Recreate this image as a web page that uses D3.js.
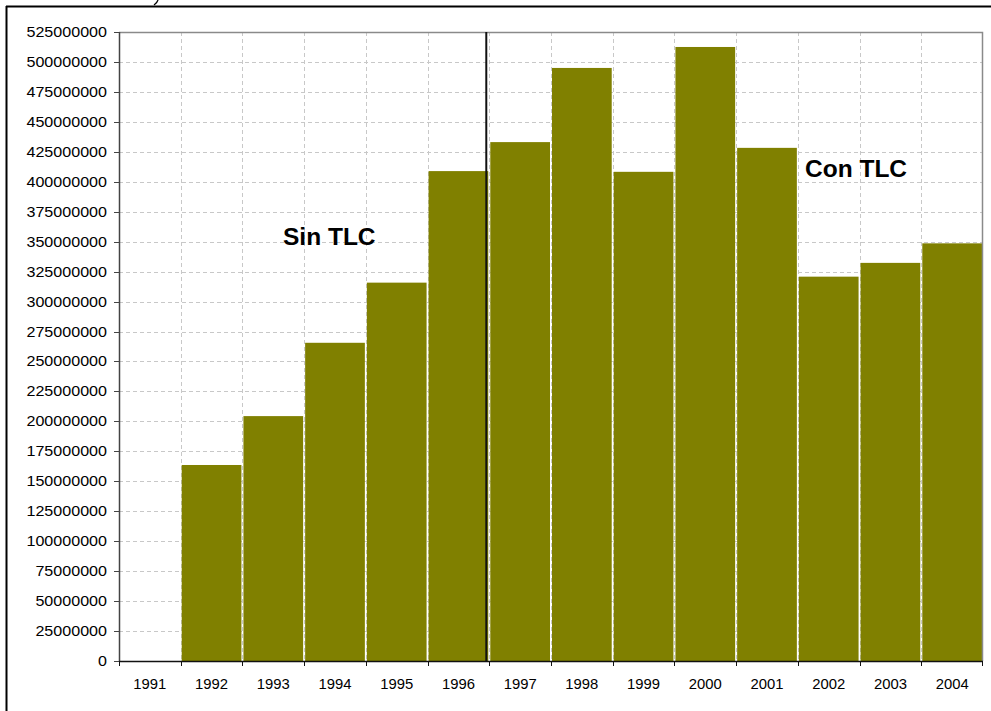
<!DOCTYPE html>
<html>
<head>
<meta charset="utf-8">
<script src="https://cdn.jsdelivr.net/npm/d3@7"></script>
<style>
  html, body { margin: 0; padding: 0; background: #fff; }
  svg { display: block; font-family: Arial, "Liberation Sans", sans-serif; }
</style>
</head>
<body>
<svg id="chart" width="991" height="711"></svg>
<script>
// years on the x axis
const years = ['1991', '1992', '1993', '1994', '1995', '1996', '1997',
  '1998', '1999', '2000', '2001', '2002', '2003', '2004'];
// values
const values = [0, 163600000, 204400000, 265600000, 315800000, 408900000, 433100000,
  495000000, 408300000, 512500000, 428300000, 320800000, 332300000, 348600000];
const yTicks = d3.range(0, 525000001, 25000000);
const notes = [
  { text: 'Sin TLC', x: 283, y: 245 },
  { text: 'Con TLC', x: 805, y: 177 }
];

const margin = { top: 32, right: 8, bottom: 50, left: 119 };
const width = 991, height = 711;

const svg = d3.select('#chart');

const x = d3.scaleBand()
  .domain(years)
  .range([margin.left, width - margin.right])
  .padding(0);

const y = d3.scaleLinear()
  .domain([0, 525000000])
  .range([height - margin.bottom, margin.top]);

const x0 = margin.left, x1 = width - margin.right;
const y0 = height - margin.bottom, y1 = margin.top;

// outer frame (top and left only)
svg.append('line').attr('x1', 6).attr('x2', width).attr('y1', 6.5).attr('y2', 6.5)
  .attr('stroke', '#000').attr('stroke-width', 2);
svg.append('line').attr('x1', 6.5).attr('x2', 6.5).attr('y1', 6).attr('y2', height)
  .attr('stroke', '#000').attr('stroke-width', 2);
// stray stroke of something above the frame
svg.append('path').attr('d', 'M158,0 Q157,3 154,5')
  .attr('fill', 'none').attr('stroke', '#000').attr('stroke-width', 1.3);

// horizontal grid
svg.append('g')
  .selectAll('line')
  .data(yTicks.slice(1, -1))
  .join('line')
  .attr('x1', x0).attr('x2', x1)
  .attr('y1', d => Math.round(y(d)) + 0.5).attr('y2', d => Math.round(y(d)) + 0.5)
  .attr('stroke', '#c8c8c8').attr('stroke-dasharray', '4,3');

// vertical grid at band boundaries
svg.append('g')
  .selectAll('line')
  .data(years.slice(1))
  .join('line')
  .attr('x1', d => Math.round(x(d)) + 0.5).attr('x2', d => Math.round(x(d)) + 0.5)
  .attr('y1', y1).attr('y2', y0)
  .attr('stroke', '#c8c8c8').attr('stroke-dasharray', '4,3');

// bars
svg.append('g')
  .attr('fill', '#808000')
  .selectAll('rect')
  .data(years.map((d, i) => [d, values[i]]).filter(d => d[1] > 0))
  .join('rect')
  .attr('x', d => x(d[0]) + 1)
  .attr('y', d => y(d[1]))
  .attr('width', x.bandwidth() - 2)
  .attr('height', d => y(0) - y(d[1]));

// plot border top and right
svg.append('path')
  .attr('d', `M${x0},${y1 + 0.5}H${x1 - 0.5}V${y0}`)
  .attr('fill', 'none').attr('stroke', '#8a8a8a').attr('stroke-width', 1.5);

// divider between 1996 and 1997
svg.append('line')
  .attr('x1', x('1997') - 3).attr('x2', x('1997') - 3)
  .attr('y1', y1).attr('y2', y0)
  .attr('stroke', '#111').attr('stroke-width', 2);

// y axis
const yAxis = svg.append('g');
yAxis.append('line').attr('x1', x0 + 0.5).attr('x2', x0 + 0.5).attr('y1', y1).attr('y2', y0)
  .attr('stroke', '#444').attr('stroke-width', 1.5);
yAxis.selectAll('line.tick')
  .data(yTicks)
  .join('line')
  .attr('class', 'tick')
  .attr('x1', x0 - 5).attr('x2', x0)
  .attr('y1', d => Math.round(y(d)) + 0.5).attr('y2', d => Math.round(y(d)) + 0.5)
  .attr('stroke', '#444');
yAxis.selectAll('text')
  .data(yTicks)
  .join('text')
  .attr('x', 107)
  .attr('y', d => y(d) + 5)
  .attr('text-anchor', 'end')
  .attr('font-size', 14)
  .attr('fill', '#000')
  .attr('textLength', d => String(d).length * 8.95)
  .attr('lengthAdjust', 'spacingAndGlyphs')
  .text(d => String(d));

// x axis
const xAxis = svg.append('g');
xAxis.append('line').attr('x1', x0).attr('x2', x1).attr('y1', y0 + 0.5).attr('y2', y0 + 0.5)
  .attr('stroke', '#111').attr('stroke-width', 1.5);
xAxis.selectAll('line.tick')
  .data(years.concat(['end']))
  .join('line')
  .attr('class', 'tick')
  .attr('x1', d => d === 'end' ? x1 - 0.5 : Math.round(x(d)) + 0.5)
  .attr('x2', d => d === 'end' ? x1 - 0.5 : Math.round(x(d)) + 0.5)
  .attr('y1', y0).attr('y2', y0 + 5)
  .attr('stroke', '#111');
xAxis.selectAll('text')
  .data(years)
  .join('text')
  .attr('x', d => x(d) + x.bandwidth() / 2)
  .attr('y', 689)
  .attr('text-anchor', 'middle')
  .attr('font-size', 14.5)
  .attr('fill', '#000')
  .attr('textLength', 33)
  .attr('lengthAdjust', 'spacingAndGlyphs')
  .text(d => d);

// annotations
svg.append('g')
  .selectAll('text')
  .data(notes)
  .join('text')
  .attr('x', d => d.x)
  .attr('y', d => d.y)
  .attr('font-size', 24.5)
  .attr('font-weight', 'bold')
  .attr('fill', '#000')
  .text(d => d.text);
</script>
</body>
</html>
